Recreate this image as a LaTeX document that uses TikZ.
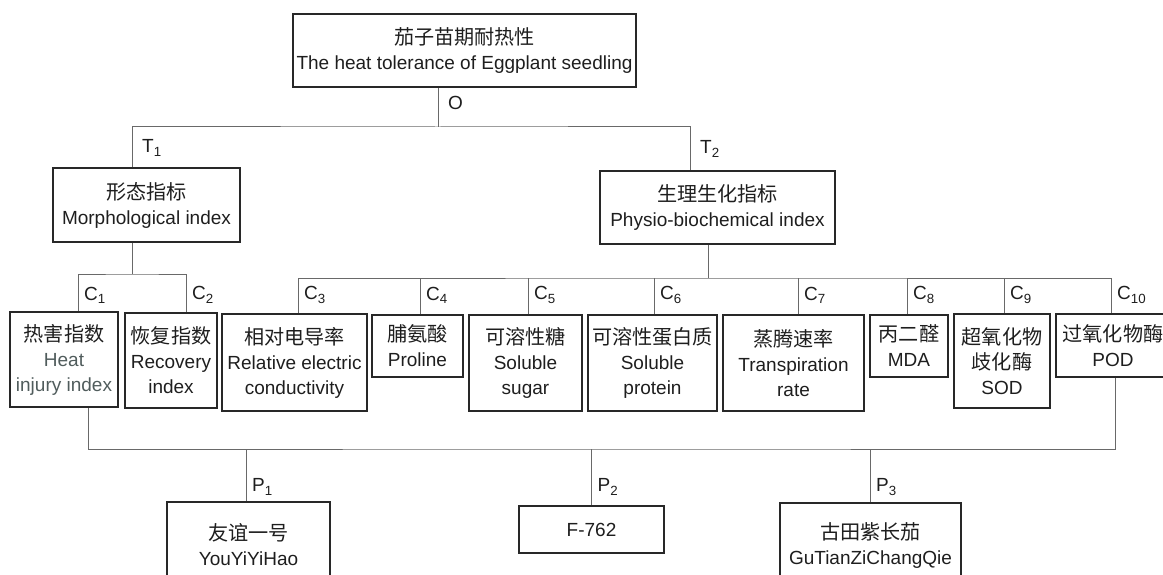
\documentclass[tikz,border=0pt]{standalone}
\usepackage{fontspec}
\setmainfont{Liberation Sans}
\newfontfamily\cjk[Scale=1.06]{Noto Sans CJK SC}
\usepackage{xcolor}
\definecolor{ink}{RGB}{30,30,30}
\definecolor{boxline}{RGB}{40,40,40}
\definecolor{linkgray}{RGB}{105,105,105}
\definecolor{heatgray}{RGB}{80,92,92}
\newcommand{\boxfont}{\fontsize{19}{25}\selectfont}
\tikzset{
  box/.style={draw=boxline, line width=1.5pt, align=center, inner sep=0pt,
              text=ink, font=\boxfont},
  link/.style={draw=linkgray, line width=1pt},
  tag/.style={anchor=west, inner sep=0pt, xshift=6pt, text=ink, font=\boxfont}
}

\begin{document}
\begin{tikzpicture}[x=1pt, y=-1pt]
  \useasboundingbox (0,0) rectangle (1163,575);
  % goal and criteria
  \node[box, minimum width=343pt, minimum height=73pt] (top) at (464.5,50.5) {{\cjk 茄子苗期耐热性}\\The heat tolerance of Eggplant seedling};
  \node[box, minimum width=187pt, minimum height=74pt] (t1) at (146.5,205) {{\cjk 形态指标}\\Morphological index};
  \node[box, minimum width=235pt, minimum height=73pt] (t2) at (717.5,207.5) {{\cjk 生理生化指标}\\Physio-biochemical index};
  % indices
  \node[box, minimum width=108pt, minimum height=95pt] (c1) at (64,359.5) {{\cjk 热害指数}\\\textcolor{heatgray}{Heat}\\\textcolor{heatgray}{injury index}};
  \node[box, minimum width=92pt, minimum height=95pt] (c2) at (171,360.5) {{\cjk 恢复指数}\\Recovery\\index};
  \node[box, minimum width=145pt, minimum height=97pt] (c3) at (294.5,362.5) {{\cjk 相对电导率}\\Relative electric\\conductivity};
  \node[box, minimum width=91pt, minimum height=62pt] (c4) at (417.5,346) {{\cjk 脯氨酸}\\Proline};
  \node[box, minimum width=113pt, minimum height=96pt] (c5) at (525.5,363) {{\cjk 可溶性糖}\\Soluble\\sugar};
  \node[box, minimum width=129pt, minimum height=96pt] (c6) at (652.5,363) {{\cjk 可溶性蛋白质}\\Soluble\\protein};
  \node[box, minimum width=141pt, minimum height=96pt] (c7) at (793.5,363) {{\cjk 蒸腾速率}\\Transpiration\\rate};
  \node[box, minimum width=78pt, minimum height=62pt] (c8) at (909,346) {{\cjk 丙二醛}\\MDA};
  \node[box, minimum width=96pt, minimum height=94pt] (c9) at (1002,361) {{\cjk 超氧化物}\\{\cjk 歧化酶}\\SOD};
  \node[box, minimum width=114pt, minimum height=63pt] (c10) at (1113,345.5) {{\cjk 过氧化物酶}\\POD};
  % cultivars
  \node[box, minimum width=163pt, minimum height=86pt] (p1) at (248.5,545) {{\cjk 友谊一号}\\YouYiYiHao};
  \node[box, minimum width=145pt, minimum height=47pt] (p2) at (591.5,529.5) {F-762};
  \node[box, minimum width=181pt, minimum height=85pt] (p3) at (870.5,545.5) {{\cjk 古田紫长茄}\\GuTianZiChangQie};

  % junctions
  \coordinate (jO) at (438,127);
  \coordinate (jT1) at (132,274);
  \coordinate (jT2) at (708,278);
  \coordinate (jP) at (591.5,449);

  \draw[link] (top.south -| jO) -- (jO);
  \draw[link] (t1.north -| jT1) |- (jO) -| (t2.north -| 690,0);
  \draw[link] (t1.south -| jT1) -- (jT1);
  \draw[link] (c1.north -| 78,0) |- (jT1) -| (c2.north -| 186,0);
  \draw[link] (t2.south -| jT2) -- (jT2);
  \draw[link] (c3.north -| 298,0) |- (jT2) -| (c10.north -| 1111,0);
  \foreach \n/\x in {c4/420,c5/528,c6/654,c7/798,c8/907,c9/1004}
    \draw[link] (\n.north -| \x,0) -- (\x,0 |- jT2);
  \draw[link] (c1.south -| 88,0) |- (jP) -| (c10.south -| 1115,0);
  \draw[link] (p1.north -| 246,0) -- (246,0 |- jP);
  \draw[link] (p2.north) -- (jP);
  \draw[link] (p3.north -| 870,0) -- (870,0 |- jP);

  % labels
  \node[tag, xshift=4pt] (lo) at (438,103) {O};
  \node[tag, xshift=4pt] (lt1) at (132,148) {T\textsubscript{1}};
  \node[tag, xshift=4pt] (lt2) at (690,149) {T\textsubscript{2}};
  \foreach \n/\x/\k in {lc1/78/1,lc2/186/2,lc3/298/3,lc4/420/4,lc5/528/5,lc6/654/6,lc7/798/7,lc8/907/8,lc9/1004/9,lc10/1111/10}
    \node[tag] (\n) at (\x,295) {C\textsubscript{\k}};
  \node[tag] (lp1) at (246,487) {P\textsubscript{1}};
  \node[tag] (lp2) at (591.5,487) {P\textsubscript{2}};
  \node[tag] (lp3) at (870,487) {P\textsubscript{3}};
\end{tikzpicture}
\end{document}
